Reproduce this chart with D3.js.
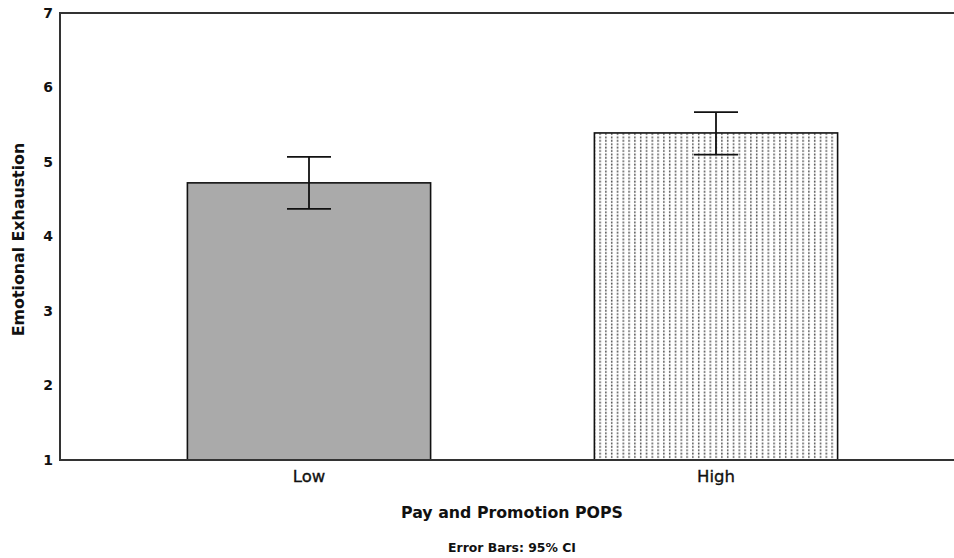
<!DOCTYPE html>
<html>
<head>
<meta charset="utf-8">
<script src="https://cdn.jsdelivr.net/npm/d3@7"></script>
<style>
  html, body { margin: 0; padding: 0; background: #fff; }
  svg { display: block; }
  text { font-family: "DejaVu Sans", Verdana, sans-serif; fill: #111; }
</style>
</head>
<body>
<svg id="chart" width="954" height="558"></svg>
<script>
// Mean emotional exhaustion by Pay and Promotion POPS group, with 95% CI
const categories = ["Low", "High"];
const means = [4.72, 5.39];
const ciLower = [4.37, 5.10];
const ciUpper = [5.07, 5.67];
const yTicks = [1, 2, 3, 4, 5, 6, 7];

(function () {
const svg = d3.select("#chart");
const W = 954;
const plotLeft = 60, plotTop = 13, plotBottom = 460;

const y = d3.scaleLinear().domain([1, 7]).range([plotBottom, plotTop]);
const x = d3.scaleBand().domain(categories).range([105.5, 919.5]).paddingInner(0.4).paddingOuter(0.2);

// dotted fill for the second bar
const defs = svg.append("defs");
const pat = defs.append("pattern")
  .attr("id", "dots").attr("patternUnits", "userSpaceOnUse")
  .attr("width", 5.8).attr("height", 3.4);
pat.append("rect").attr("width", 5.8).attr("height", 3.4).attr("fill", "#fff");
pat.append("rect").attr("x", 2).attr("y", 0.5).attr("width", 1.4).attr("height", 1.8).attr("fill", "#444");

const fills = ["#aaaaaa", "url(#dots)"];
const data = categories.map((c, i) => ({ c, m: means[i], lo: ciLower[i], hi: ciUpper[i], fill: fills[i] }));

// bars
svg.append("g").selectAll("rect").data(data).join("rect")
  .attr("x", d => x(d.c) + 0.5)
  .attr("y", d => y(d.m))
  .attr("width", x.bandwidth() - 1)
  .attr("height", d => y(1) - y(d.m))
  .attr("fill", d => d.fill)
  .attr("stroke", "#111").attr("stroke-width", 1.6);

// error bars
const eb = svg.append("g").attr("stroke", "#111").attr("stroke-width", 1.8).attr("fill", "none");
data.forEach(d => {
  const cx = x(d.c) + x.bandwidth() / 2;
  eb.append("line").attr("x1", cx).attr("x2", cx).attr("y1", y(d.hi)).attr("y2", y(d.lo));
  eb.append("line").attr("x1", cx - 22).attr("x2", cx + 22).attr("y1", y(d.hi)).attr("y2", y(d.hi));
  eb.append("line").attr("x1", cx - 22).attr("x2", cx + 22).attr("y1", y(d.lo)).attr("y2", y(d.lo));
});

// frame: left axis line, top border, baseline
const frame = svg.append("g").attr("stroke", "#333").attr("stroke-width", 2).attr("fill", "none");
frame.append("line").attr("x1", plotLeft).attr("x2", plotLeft).attr("y1", plotTop).attr("y2", plotBottom);
frame.append("line").attr("x1", plotLeft - 1).attr("x2", W).attr("y1", plotTop).attr("y2", plotTop);
frame.append("line").attr("x1", plotLeft - 1).attr("x2", W).attr("y1", plotBottom).attr("y2", plotBottom);

// y axis labels (no tick marks)
const yAxis = d3.axisLeft(y).tickValues(yTicks).tickFormat(d3.format("d")).tickSize(0).tickPadding(7);
const gy = svg.append("g").attr("transform", `translate(${plotLeft},0)`).call(yAxis);
gy.select(".domain").remove();
gy.selectAll("text").attr("font-size", 14).attr("font-weight", "bold")
  .attr("font-family", "DejaVu Sans, sans-serif").attr("fill", "#111");

// x axis category labels
const xAxis = d3.axisBottom(x).tickSize(0).tickPadding(10);
const gx = svg.append("g").attr("transform", `translate(0,${plotBottom})`).call(xAxis);
gx.select(".domain").remove();
gx.selectAll("text").attr("font-size", 16.5).attr("font-family", "DejaVu Sans, sans-serif")
  .attr("fill", "#111").attr("stroke", "#111").attr("stroke-width", 0.35);

// titles
svg.append("text")
  .attr("transform", `translate(24,${(plotTop + plotBottom) / 2 + 3}) rotate(-90)`)
  .attr("text-anchor", "middle").attr("font-size", 15.8).attr("font-weight", "bold")
  .text("Emotional Exhaustion");

svg.append("text").attr("x", 512).attr("y", 518)
  .attr("text-anchor", "middle").attr("font-size", 15.8).attr("font-weight", "bold")
  .text("Pay and Promotion POPS");

svg.append("text").attr("x", 512).attr("y", 552)
  .attr("text-anchor", "middle").attr("font-size", 12.4).attr("font-weight", "bold")
  .text("Error Bars: 95% CI");
})();
</script>
</body>
</html>
